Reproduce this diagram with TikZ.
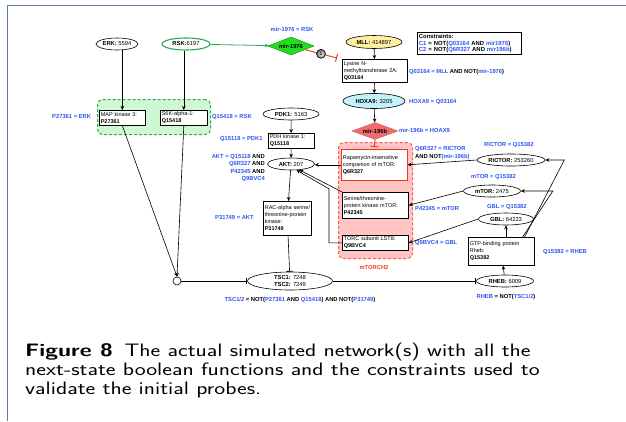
\documentclass[tikz,border=0pt]{standalone}
\usepackage{fontspec}
\newfontfamily\hv{Liberation Sans}
\usetikzlibrary{shapes.geometric,arrows.meta,calc}
\definecolor{lblue}{HTML}{2F55F0}
\definecolor{framec}{HTML}{5A7AA8}
\definecolor{ggreen}{HTML}{2EAA5A}
\definecolor{gfill}{HTML}{CFF7D3}
\definecolor{rfill}{HTML}{FFC4C4}
\definecolor{rdash}{HTML}{FF5A5A}
\definecolor{dgreen}{HTML}{22DD22}
\definecolor{dred}{HTML}{F06C6C}
\definecolor{yfill}{HTML}{FFF0A0}
\definecolor{cfill}{HTML}{C4F2FA}
\definecolor{redline}{HTML}{F03818}
\definecolor{lblred}{HTML}{F04020}
\newcommand\bl[1]{\textcolor{lblue}{#1}}
\newcommand\capline[1]{\scalebox{1.29}[1]{#1}}
\begin{document}
\begin{tikzpicture}[x=1pt,y=-1pt,
  ell/.style={ellipse, draw, line width=0.6pt, inner sep=0pt, font=\hv\fontsize{5.8}{6.6}\selectfont, align=center},
  box/.style={rectangle, draw, line width=0.6pt, anchor=north west, inner sep=1.5pt, align=left, font=\hv\fontsize{5.5}{7}\selectfont},
  lbl/.style={inner sep=0pt, font=\hv\bfseries\fontsize{5.8}{7.6}\selectfont},
  arr/.style={-{Stealth[length=4pt,width=3.6pt]}, line width=0.6pt},
  inh/.style={-{Bar[width=6pt,line width=0.8pt]}, line width=0.6pt},
  grp/.style={rectangle, rounded corners=5pt, dash pattern=on 3pt off 2pt, line width=1pt, anchor=north west, inner sep=0pt},
  dia/.style={diamond, draw, inner sep=0pt, aspect=2.5, font=\hv\bfseries\fontsize{5.8}{6.6}\selectfont}
]
\useasboundingbox (0,0) rectangle (626,421);
\fill[white] (0,0) rectangle (626,421);
\draw[framec, line width=1.8pt] (7.5,421) -- (7.5,5.5) -- (626,5.5);

% groups
\node[grp, draw=ggreen, fill=gfill, minimum width=113pt, minimum height=35pt] (ggrp) at (97,99) {};
\node[grp, draw=rdash, fill=rfill, minimum width=74pt, minimum height=116pt] (rgrp) at (338,142) {};
\node[lbl, text=lblred] (mtorc2) at (374,267) {mTORCH2};

% ellipses
\node[ell, minimum width=42pt, minimum height=12pt] (erk) at (117,44) {\textbf{ERK:} 5594};
\node[ell, draw=ggreen, line width=1.1pt, minimum width=48pt, minimum height=12pt] (rsk) at (186,44) {\textbf{RSK:}6197};
\node[ell, fill=yfill, minimum width=56pt, minimum height=13pt] (mll) at (374,42) {\textbf{MLL:} 414897};
\node[ell, fill=cfill, minimum width=62pt, minimum height=15pt] (hoxa) at (374,101) {\textbf{HOXA9:} 3205};
\node[ell, minimum width=56pt, minimum height=12pt] (pdk) at (291,114) {\textbf{PDK1:} 5163};
\node[ell, minimum width=47pt, minimum height=12pt] (akt) at (291,164) {\textbf{AKT:} 207};
\node[ell, minimum width=85pt, minimum height=18pt] (tsc) at (290,281) {\textbf{TSC1:} 7248\\\textbf{TSC2:} 7249};
\node[ell, minimum width=57pt, minimum height=12pt] (rheb) at (505,281) {\textbf{RHEB:} 6009};
\node[ell, minimum width=68pt, minimum height=12pt] (rictor) at (511,160) {\textbf{RICTOR:} 253260};
\node[ell, minimum width=57pt, minimum height=12pt] (mtor) at (492,191) {\textbf{mTOR:} 2475};
\node[ell, minimum width=55pt, minimum height=12pt] (gbl) at (506,219) {\textbf{GBL:} 64223};
\node[circle, draw, line width=0.6pt, fill=white, inner sep=0pt, minimum size=8pt] (junc) at (177,281) {};

% diamonds
\node[dia, draw=green!55!black, fill=dgreen, minimum width=46pt, minimum height=18pt] (m1976) at (291,46) {mir-1976};
\node[dia, draw=dred!85!black, fill=dred, minimum width=46pt, minimum height=17pt] (m196) at (375,131) {mir-196b};

% boxes
\node[box, text width=62pt, minimum height=23pt] (lys) at (342,59) {Lysine N-\\\mbox{methyltransferase 2A:}\\\textbf{Q03164}};
\node[box, text width=43pt, minimum height=15pt, fill=white] (map) at (99,110) {\mbox{MAP kinase 3:}\\\textbf{P27361}};
\node[box, text width=44pt, minimum height=15pt, fill=white] (s6k) at (160,110) {\mbox{S6K-alpha-1:}\\\textbf{Q15418}};
\node[box, text width=43pt, minimum height=13pt] (pdh) at (268,133) {\mbox{PDH kinase 1:}\\\textbf{Q15118}};
\node[box, text width=45pt, minimum height=34pt] (rac) at (263,201) {\mbox{RAC-alpha serine/}\\\mbox{threonine-protein}\\kinase:\\\textbf{P31749}};
\node[box, draw=redline, fill=white, text width=63pt, minimum height=31pt] (rap) at (341,149) {\mbox{Rapamycin-insensitive}\\\mbox{companion of mTOR:}\\\textbf{Q6R327}};
\node[box, fill=white, text width=63pt, minimum height=26pt] (ser) at (342,192) {\mbox{Serine/threonine-}\\\mbox{protein kinase mTOR:}\\\textbf{P42345}};
\node[box, fill=white, text width=63pt, minimum height=15pt] (torc) at (342,235) {\mbox{TORC subunit LST8:}\\\textbf{Q9BVC4}};
\node[box, text width=63pt, minimum height=28pt] (gtp) at (468,237) {\mbox{GTP-binding protein}\\Rheb:\\\textbf{Q15382}};
\node[box, line width=0.9pt, text width=101pt, minimum height=21pt, font=\hv\bfseries\fontsize{5.9}{6.8}\selectfont] (cons) at (417,32) {Constraints:\\\mbox{\bl{C1} = NOT(\bl{Q03164} AND \bl{mir1976})}\\\mbox{\bl{C2} = NOT(\bl{Q6R327} AND \bl{mir196b})}};

% labels
\node[lbl, text=lblue] (l1) at (292,29) {mir-1976 = RSK};
\node[lbl, anchor=west] (l2) at (409,72) {\bl{Q03164 = MLL} AND NOT(\bl{mir-1976})};
\node[lbl, anchor=west, text=lblue] (l3) at (409,102) {HOXA9 = Q03164};
\node[lbl, anchor=west, text=lblue] (l4) at (399,130) {mir-196b = HOAX9};
\node[lbl, anchor=west, align=left] (l5) at (415,153) {\bl{Q6R327 = RICTOR}\\AND NOT\bl{(mir-196b)}};
\node[lbl, anchor=west, text=lblue] (l6) at (484,145) {RICTOR = Q15382};
\node[lbl, anchor=west, text=lblue] (l7) at (471,177) {mTOR = Q15382};
\node[lbl, anchor=west, text=lblue] (l8) at (415,209) {P42345 = mTOR};
\node[lbl, anchor=west, text=lblue] (l9) at (487,207) {GBL = Q15382};
\node[lbl, anchor=west, text=lblue] (l10) at (415,243) {Q9BVC4 = GBL};
\node[lbl, anchor=west, text=lblue] (l11) at (543,252) {Q15382 = RHEB};
\node[lbl] (l12) at (506,297) {\bl{RHEB} = NOT(\bl{TSC1/2})};
\node[lbl] (l13) at (300,300) {\bl{TSC1/2} = NOT(\bl{P27361} AND \bl{Q15418}) AND NOT(\bl{P31749})};
\node[lbl, anchor=west, text=lblue] (l15) at (215,218) {P31749 = AKT};
\node[lbl, anchor=east, align=right, font=\hv\bfseries\fontsize{5.8}{7.3}\selectfont] (l16) at (265,168) {\bl{AKT = Q15118} AND\\\bl{Q6R327} AND\\\bl{P42345} AND\\\bl{Q9BVC4}};
\node[lbl, anchor=west, text=lblue] (l17) at (220,139) {Q15118 = PDK1};
\node[lbl, anchor=west, text=lblue] (l18) at (212,117) {Q15418 = RSK};
\node[lbl, anchor=west, text=lblue] (l19) at (52,117) {P27361 = ERK};

% connectors
\draw[arr] (map.north |- erk.south) -- (map.north);
\draw[arr] (s6k.north |- rsk.south) -- (s6k.north);
\draw[arr, draw=ggreen, line width=0.8pt] (rsk) -- (m1976);
\coordinate (lysin) at ($(lys.north west)+(-5,-1)$);
\draw[-{Bar[width=8pt,line width=1pt]}, draw=redline, line width=0.9pt] (m1976) -- (lysin)
  node[pos=0.5, circle, draw=black, line width=0.6pt, inner sep=0pt, minimum size=9pt, inner color=white, outer color=black!60, font=\hv\bfseries\fontsize{5}{6}\selectfont, text=black] (c1) {1};
\draw[arr] (mll) -- (lys);
\draw[arr] (lys) -- (hoxa);
\draw[arr] (hoxa) -- (m196);
\draw[-{Bar[width=8pt,line width=1pt]}, draw=redline, line width=0.9pt] (m196.south) -- ($(rap.north)+(0,-2)$);
\draw[arr] (pdk) -- (pdh);
\draw[arr] (pdh) -- (akt);
\draw[arr] (akt) -- (rac);
\draw[arr] (map.south) -- (junc.north);
\draw[arr] (s6k.south) -- (junc.north);
\draw[inh] (junc) -- (tsc);
\draw[inh] (rac) -- (tsc);
\draw[inh] (tsc) -- (rheb);
\draw[arr] (rheb) -- (gtp);
\draw[arr] (gtp.north -| gbl.south) -- (gbl.south);
\draw[arr] ($(gtp.north east)+(-12,0)$) -- ($(mtor.east)+(32,0)$) -- (mtor.east);
\draw[arr] ($(gtp.north east)+(-10,0)$) -- ($(rictor.east)+(19,0)$) -- (rictor.east);
\draw[arr] (rictor.west) -- (rap.east);
\draw[arr] (mtor.west) -- (ser.east);
\draw[arr] (gbl.west) -- (torc.east);
\draw[arr] (rap.west) -- (rap.west -| akt.east);
\draw[arr] (ser.north west) -- (akt.-35);
\draw[arr] (torc.west) -- ($(torc.west)+(-13,0)$) -- ($(torc.west)+(-13,-54)$) -- (akt.-48);

% caption
\node[anchor=north west, inner sep=0pt, align=left, font=\sffamily\fontsize{18}{19}\selectfont] (cap) at (25,343) {\capline{\textbf{Figure 8}\enspace The actual simulated network(s) with all the}\\\capline{next-state boolean functions and the constraints used to}\\\capline{validate the initial probes.}};
\end{tikzpicture}
\end{document}
